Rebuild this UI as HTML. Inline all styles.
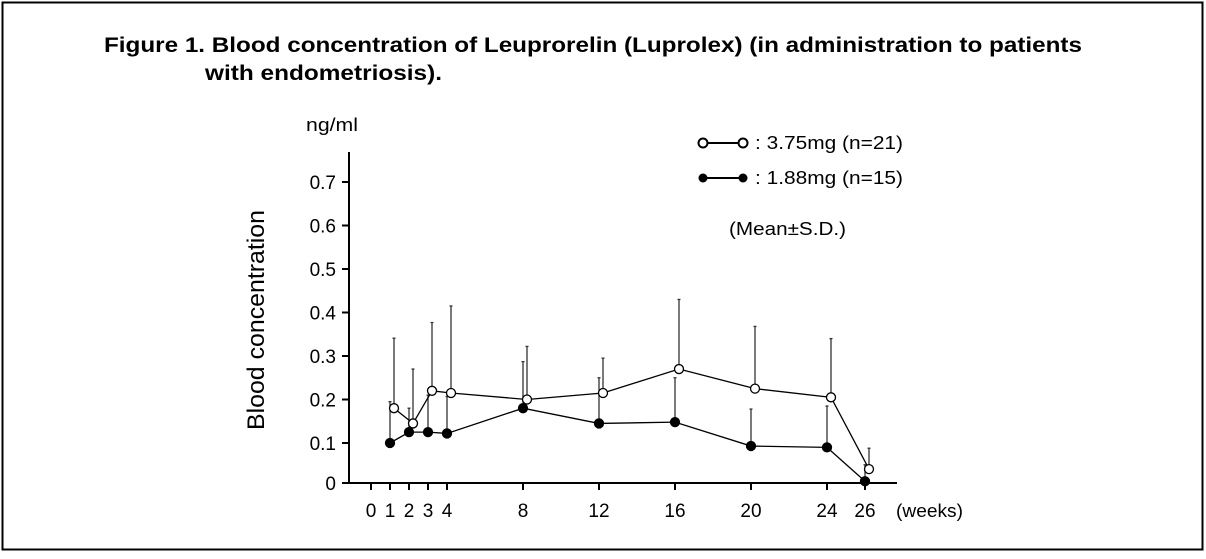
<!DOCTYPE html>
<html><head><meta charset="utf-8"><style>
body{margin:0;background:#fff;font-family:"Liberation Sans",Arial,sans-serif}
svg text{font-family:"Liberation Sans",Arial,sans-serif}
</style></head><body>
<svg width="1206" height="554">
<rect x="2.5" y="2.5" width="1200" height="547" fill="#fff" stroke="#000" stroke-width="2"/>
<text x="104" y="52" font-size="21" font-weight="bold" textLength="978" lengthAdjust="spacingAndGlyphs">Figure 1. Blood concentration of Leuprorelin (Luprolex) (in administration to patients</text>
<text x="205" y="80" font-size="21" font-weight="bold" textLength="237" lengthAdjust="spacingAndGlyphs">with endometriosis).</text>
<text x="306" y="131" font-size="18" textLength="52" lengthAdjust="spacingAndGlyphs">ng/ml</text>
<text transform="translate(264,320) rotate(-90)" text-anchor="middle" font-size="24" textLength="220" lengthAdjust="spacingAndGlyphs">Blood concentration</text>
<text x="896" y="517" font-size="18" textLength="67" lengthAdjust="spacingAndGlyphs">(weeks)</text>
<g>
<line x1="702" y1="143" x2="744" y2="143" stroke="#000" stroke-width="2"/>
<circle cx="703" cy="143" r="4.5" fill="#fff" stroke="#000" stroke-width="2"/>
<circle cx="743" cy="143" r="4.5" fill="#fff" stroke="#000" stroke-width="2"/>
<text x="755" y="149" font-size="18" textLength="148" lengthAdjust="spacingAndGlyphs">: 3.75mg (n=21)</text>
<line x1="702" y1="178" x2="744" y2="178" stroke="#000" stroke-width="2"/>
<circle cx="703" cy="178" r="4.5"/><circle cx="743" cy="178" r="4.5"/>
<text x="755" y="184" font-size="18" textLength="148" lengthAdjust="spacingAndGlyphs">: 1.88mg (n=15)</text>
<text x="729" y="235" font-size="18" textLength="117" lengthAdjust="spacingAndGlyphs">(Mean±S.D.)</text>
</g>
<g id="axes"></g>
<g id="marks"></g>
</svg>
<script>
const weeks=[1,2,3,4,8,12,16,20,24,26];
const openMean=[0.18,0.145,0.22,0.215,0.2,0.215,0.27,0.225,0.205,0.04];
const openSD=[0.341,0.27,0.377,0.415,0.322,0.295,0.43,0.368,0.34,0.088];
const fillMean=[0.1,0.125,0.125,0.122,0.18,0.145,0.148,0.093,0.09,0.012];
const fillSD=[0.195,0.18,0.21,0.207,0.287,0.25,0.25,0.178,0.185,0.05];
const xTicks=[0,1,2,3,4,8,12,16,20,24,26];
const yTicks=[0,0.1,0.2,0.3,0.4,0.5,0.6,0.7];
const NS="http://www.w3.org/2000/svg";
const X=w=>371+19*w, Y=v=>486.5-435*v;
function mk(p,t,a){const e=document.createElementNS(NS,t);for(const k in a)e.setAttribute(k,a[k]);p.appendChild(e);return e;}
const ax=document.getElementById('axes'), mg=document.getElementById('marks');
let l=mk(ax,'line',{x1:349,y1:152,x2:349,y2:484,stroke:'#000','stroke-width':2});


l=mk(ax,'line',{x1:348,y1:483,x2:897,y2:483,stroke:'#000','stroke-width':2});


yTicks.forEach(v=>{const y=v===0?483:Y(v);
 mk(ax,'line',{x1:342,y1:y,x2:349,y2:y,stroke:'#000','stroke-width':2});
 const t=mk(ax,'text',{x:336,y:y+7,'text-anchor':'end','font-size':19});t.textContent=v===0?'0':v.toFixed(1);
 
 });
xTicks.forEach(w=>{const x=X(w);
 mk(ax,'line',{x1:x,y1:483,x2:x,y2:490,stroke:'#000','stroke-width':2});
 const t=mk(ax,'text',{x:x,y:517,'text-anchor':'middle','font-size':19});t.textContent=w;
 
 });
function series(mean,sd,off,fill,name){
 const g=mk(mg,'g',{});
 
 
 weeks.forEach((w,i)=>{const x=X(w)+off;
  mk(g,'line',{x1:x,y1:Y(mean[i]),x2:x,y2:Y(sd[i]),stroke:'#333','stroke-width':1.3});
  mk(g,'line',{x1:x-1.5,y1:Y(sd[i]),x2:x+1.5,y2:Y(sd[i]),stroke:'#333','stroke-width':1.3});});
 mk(g,'polyline',{points:weeks.map((w,i)=>(X(w)+off)+','+Y(mean[i])).join(' '),fill:'none',stroke:'#000','stroke-width':1.3});
 weeks.forEach((w,i)=>{const c=mk(g,'circle',{cx:X(w)+off,cy:Y(mean[i]),r:4.5,fill:fill,stroke:'#000','stroke-width':1.3});
  
  });
}
series(fillMean,fillSD,0,'#000','series-1-88mg');
series(openMean,openSD,4,'#fff','series-3-75mg');
</script>
</body></html>
